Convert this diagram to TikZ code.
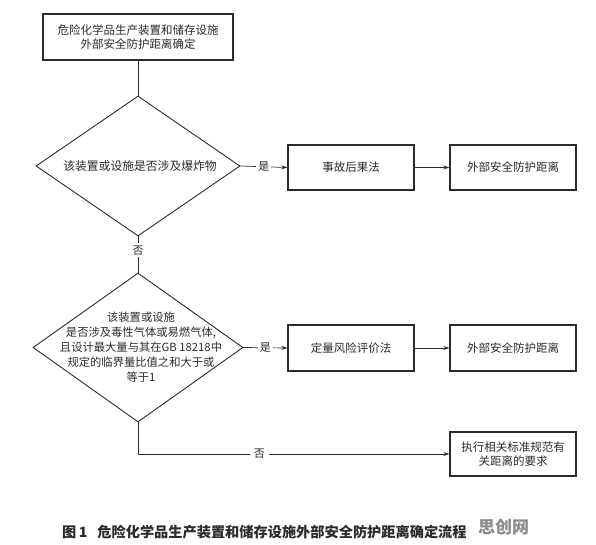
\documentclass[tikz,border=0pt]{standalone}
\usepackage{fontspec}
\setmainfont{Noto Sans CJK SC}
\usetikzlibrary{arrows.meta,shapes.geometric}
\definecolor{ink}{HTML}{2B2B2B}
\definecolor{wm}{HTML}{8C8C8C}
\tikzset{
  procbox/.style={draw=ink,line width=1.3pt,rectangle,minimum width=126pt,minimum height=45pt,inner sep=0pt,align=center,font=\fontsize{11.5}{14.5}\selectfont,text=ink},
  decision/.style={draw=ink,line width=0.9pt,diamond,inner sep=0pt},
  plaintext/.style={align=center,font=\fontsize{11.3}{15}\selectfont,text=ink,inner sep=0pt},
  conn/.style={draw=ink,line width=0.7pt},
  arr/.style={conn,-{Stealth[length=6pt,width=4pt]}},
  lbl/.style={fill=white,inner sep=2pt,font=\fontsize{11}{13}\selectfont,text=ink}
}
\begin{document}
\begin{tikzpicture}[x=1pt,y=-1pt]
\useasboundingbox (0,0) rectangle (596,545);
\node[procbox,minimum width=190pt,minimum height=46pt] (top) at (138,37) {危险化学品生产装置和储存设施\\外部安全防护距离确定};
\node[decision,minimum width=204pt,minimum height=140pt] (d1) at (138,166) {};
\node[plaintext,font=\fontsize{11.8}{15}\selectfont] (d1t) at (140,166) {该装置或设施是否涉及爆炸物};
\node[procbox] (b1) at (351,167.5) {事故后果法};
\node[procbox] (b2) at (513,167.5) {外部安全防护距离};
\node[decision,minimum width=210pt,minimum height=149pt] (d2) at (138,347.5) {};
\node[plaintext] (d2t) at (141,347.5) {该装置或设施\\是否涉及毒性气体或易燃气体,\\且设计最大量与其在GB 18218中\\规定的临界量比值之和大于或\\等于1};
\node[procbox,minimum height=46pt] (b3) at (351,348) {定量风险评价法};
\node[procbox,minimum height=46pt] (b4) at (513,348) {外部安全防护距离};
\node[procbox,minimum height=44pt] (b5) at (513,454) {执行相关标准规范有\\关距离的要求};
\draw[conn] (top.south) -- (d1.north);
\draw[arr] (d1.east) -- node[lbl] (y1) {是} (b1.west);
\draw[arr] (b1.east) -- (b2.west);
\draw[conn] (d1.south) -- node[lbl,pos=0.38] (n1) {否} (d2.north);
\draw[arr] (d2.east) -- node[lbl] (y2) {是} (b3.west);
\draw[arr] (b3.east) -- (b4.west);
\draw[arr] (d2.south) |- node[lbl,pos=0.695,inner sep=4pt] (n2) {否} (b5.west);
\node[anchor=west,inner sep=0pt,font=\fontsize{14.2}{16}\selectfont\bfseries,text=ink] (cap) at (62,532) {图\,1\hspace{10pt}危险化学品生产装置和储存设施外部安全防护距离确定流程};
\node[anchor=west,inner sep=0pt,font=\fontsize{17}{18}\selectfont\bfseries,text=wm] (wmk) at (478,527) {思创网};
\end{tikzpicture}
\end{document}
